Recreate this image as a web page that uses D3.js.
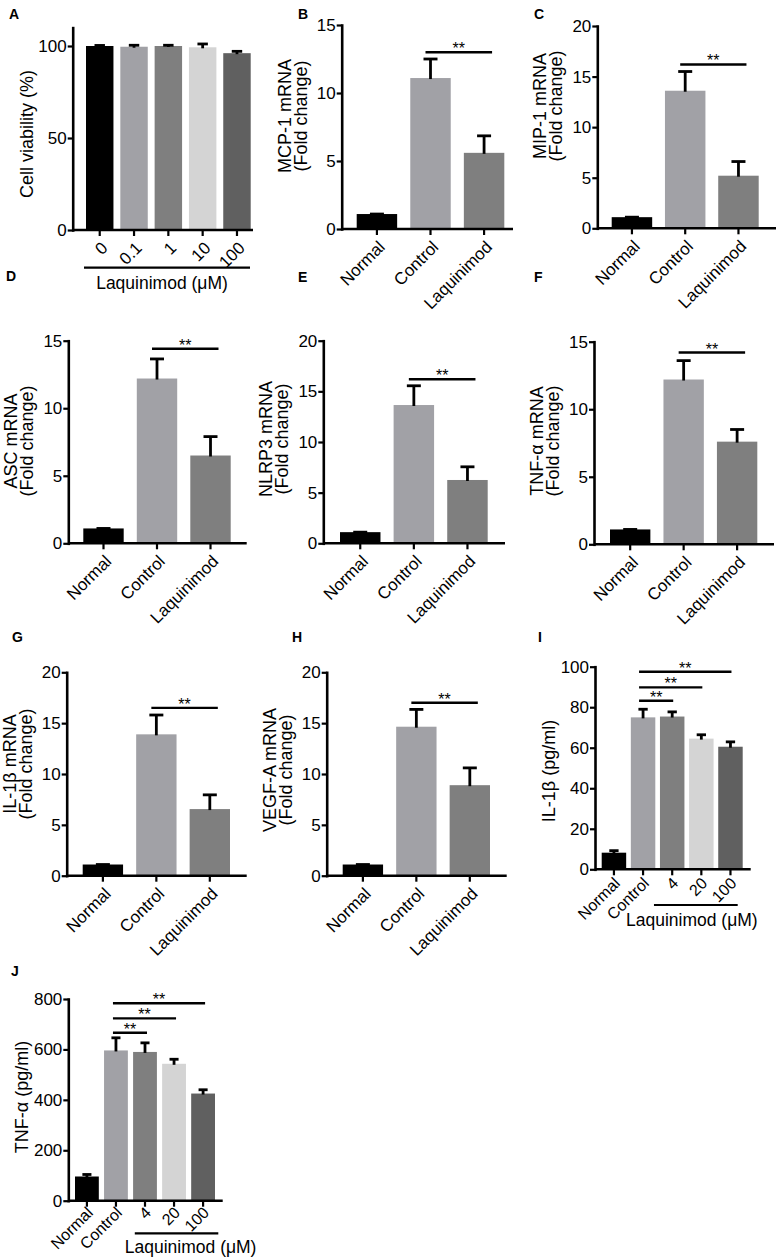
<!DOCTYPE html>
<html>
<head>
<meta charset="utf-8">
<script src="https://cdn.jsdelivr.net/npm/d3@7"></script>
<style>
  body { margin: 0; background: #fff; }
  svg { display: block; font-family: "Liberation Sans", Arial, sans-serif; }
</style>
</head>
<body>
<svg id="fig" width="779" height="1259"></svg>
<script>
// categories
const dosesA = ["0", "0.1", "1", "10", "100"];
const groupsMRNA = ["Normal", "Control", "Laquinimod"];
const groupsELISA = ["Normal", "Control", "4", "20", "100"];

// A: cell viability (%)
const viabilityMean = [100, 99.6, 100, 99.3, 96.1];
const viabilityErr = [0.3, 0.8, 0.4, 1.8, 1.0];

// B-H: mRNA fold change (Normal, Control, Laquinimod)
const mcp1Mean = [1.1, 11.1, 5.6];
const mcp1Err = [0, 1.4, 1.25];
const mip1Mean = [1.1, 13.6, 5.2];
const mip1Err = [0, 1.9, 1.4];
const ascMean = [1.1, 12.2, 6.5];
const ascErr = [0, 1.45, 1.4];
const nlrp3Mean = [1.1, 13.65, 6.25];
const nlrp3Err = [0, 1.9, 1.3];
const tnfMrnaMean = [1.1, 12.2, 7.6];
const tnfMrnaErr = [0, 1.4, 0.9];
const il1bMrnaMean = [1.1, 13.9, 6.55];
const il1bMrnaErr = [0, 1.9, 1.4];
const vegfMean = [1.1, 14.65, 8.9];
const vegfErr = [0, 1.7, 1.7];

// I, J: protein (pg/ml)
const il1bProtMean = [8.2, 75, 75.4, 64.5, 60.5];
const il1bProtErr = [1.0, 4, 2.3, 1.9, 2.4];
const tnfProtMean = [96, 596, 590, 543, 425];
const tnfProtErr = [8, 50, 36, 18, 15];

// significance brackets (value = height of the line)
const sigMcp1 = [{ from: "Control", to: "Laquinimod", value: 13.0 }];
const sigMip1 = [{ from: "Control", to: "Laquinimod", value: 16.2 }];
const sigAsc = [{ from: "Control", to: "Laquinimod", value: 14.4 }];
const sigNlrp3 = [{ from: "Control", to: "Laquinimod", value: 16.2 }];
const sigTnfMrna = [{ from: "Control", to: "Laquinimod", value: 14.2 }];
const sigIl1bMrna = [{ from: "Control", to: "Laquinimod", value: 16.5 }];
const sigVegf = [{ from: "Control", to: "Laquinimod", value: 17.0 }];
const sigIl1bProt = [
    { from: "Control", to: "100", value: 97.5 },
    { from: "Control", to: "20", value: 89.8 },
    { from: "Control", to: "4", value: 83.2 }
];
const sigTnfProt = [
    { from: "Control", to: "100", value: 783 },
    { from: "Control", to: "20", value: 723 },
    { from: "Control", to: "4", value: 666 }
];

const barColors = ["#000000", "#a1a1a6", "#7f7f7f", "#d4d4d4", "#606060"];

const svg = d3.select("#fig");
const FONT = "Liberation Sans, Arial, sans-serif";

// layout of each panel (pixel frames)
const panels = [
    { letter: "A", lx: 9, ly: 19, cats: dosesA, mean: viabilityMean, err: viabilityErr,
      max: 110, ticks: [0, 50, 100], ax: 72.7, y0: 230, yTop: 27.6, xEnd: 253,
      band: [86, 250.7], pad: 0.2, title: ["Cell viability (%)"], titleY: 134, sig: [],
      under: { from: "0", to: "100", dx0: -2, dx1: -0.7, dy: 37.6, text: "Laquinimod (μM)", tx: 162, ty: 59, anchor: "middle" } },
    { letter: "B", lx: 298, ly: 19, cats: groupsMRNA, mean: mcp1Mean, err: mcp1Err,
      max: 15, ticks: [0, 5, 10, 15], ax: 341.7, y0: 229, yTop: 25, xEnd: 513,
      band: [356.7, 504.3], pad: 0.245, title: ["MCP-1 mRNA", "(Fold change)"], titleY: 116, sig: sigMcp1 },
    { letter: "C", lx: 534, ly: 19, cats: groupsMRNA, mean: mip1Mean, err: mip1Err,
      max: 20, ticks: [0, 5, 10, 15, 20], ax: 597.3, y0: 228.3, yTop: 26, xEnd: 776,
      band: [611.7, 758.7], pad: 0.24, title: ["MIP-1 mRNA", "(Fold change)"], titleY: 106, sig: sigMip1 },
    { letter: "D", lx: 6, ly: 281, cats: groupsMRNA, mean: ascMean, err: ascErr,
      max: 15, ticks: [0, 5, 10, 15], ax: 68.3, y0: 543.3, yTop: 340.7, xEnd: 246.7,
      band: [83.3, 230.7], pad: 0.245, title: ["ASC mRNA", "(Fold change)"], titleY: 441, sig: sigAsc },
    { letter: "E", lx: 298, ly: 282, cats: groupsMRNA, mean: nlrp3Mean, err: nlrp3Err,
      max: 20, ticks: [0, 5, 10, 15, 20], ax: 323.3, y0: 543.3, yTop: 340.7, xEnd: 505,
      band: [340, 487.7], pad: 0.245, title: ["NLRP3 mRNA", "(Fold change)"], titleY: 439, sig: sigNlrp3 },
    { letter: "F", lx: 534, ly: 282, cats: groupsMRNA, mean: tnfMrnaMean, err: tnfMrnaErr,
      max: 15, ticks: [0, 5, 10, 15], ax: 594, y0: 544.3, yTop: 341.7, xEnd: 774,
      band: [610, 757.3], pad: 0.245, title: ["TNF-α mRNA", "(Fold change)"], titleY: 441, sig: sigTnfMrna },
    { letter: "G", lx: 12, ly: 642, cats: groupsMRNA, mean: il1bMrnaMean, err: il1bMrnaErr,
      max: 20, ticks: [0, 5, 10, 15, 20], ax: 66.7, y0: 875.7, yTop: 672.3, xEnd: 246.7,
      band: [82.7, 230], pad: 0.245, title: ["IL-1β mRNA", "(Fold change)"], titleY: 764, sig: sigIl1bMrna },
    { letter: "H", lx: 292, ly: 642, cats: groupsMRNA, mean: vegfMean, err: vegfErr,
      max: 20, ticks: [0, 5, 10, 15, 20], ax: 326.7, y0: 875.7, yTop: 672.3, xEnd: 506.7,
      band: [342.7, 490], pad: 0.245, title: ["VEGF-A mRNA", "(Fold change)"], titleY: 770, sig: sigVegf },
    { letter: "I", lx: 538, ly: 642, cats: groupsELISA, mean: il1bProtMean, err: il1bProtErr,
      max: 100, ticks: [0, 20, 40, 60, 80, 100], ax: 595, y0: 869.3, yTop: 666.7, xEnd: 750.7,
      band: [601.7, 742.7], pad: 0.16, title: ["IL-1β (pg/ml)"], titleY: 771, sig: sigIl1bProt,
      sigPad: [-4, 1], labelFont: 16, labelAt: [7, 15],
      under: { from: "4", to: "100", dx0: -6, dx1: -5, dy: 35.7, text: "Laquinimod (μM)", tx: -28, ty: 57, anchor: "start" } },
    { letter: "J", lx: 11, ly: 976, cats: groupsELISA, mean: tnfProtMean, err: tnfProtErr,
      max: 800, ticks: [0, 200, 400, 600, 800], ax: 68.3, y0: 1200.7, yTop: 999, xEnd: 222.7,
      band: [75, 215], pad: 0.18, title: ["TNF-α (pg/ml)"], titleY: 1097, sig: sigTnfProt,
      sigPad: [-3, 2], labelFont: 16, labelAt: [7, 13],
      under: { from: "4", to: "100", dx0: 1.7, dx1: 3.3, dy: 32.6, text: "Laquinimod (μM)", tx: -10, ty: 52.5, anchor: "start" } }
];

function drawPanel(p) {
    const g = svg.append("g");
    const y = d3.scaleLinear().domain([0, p.max]).range([p.y0, p.yTop]);
    const x = d3.scaleBand().domain(p.cats).range(p.band).paddingInner(p.pad).paddingOuter(0);
    const bw = x.bandwidth();

    // bars
    g.selectAll("rect.bar")
        .data(p.cats)
        .join("rect")
        .attr("class", "bar")
        .attr("x", d => x(d))
        .attr("y", (d, i) => y(p.mean[i]))
        .attr("width", bw)
        .attr("height", (d, i) => p.y0 - y(p.mean[i]))
        .attr("fill", (d, i) => barColors[i]);

    // error bars (upper only)
    const capW = Math.min(bw * 0.38, 14);
    const eb = g.selectAll("g.err")
        .data(p.cats)
        .join("g")
        .attr("class", "err")
        .attr("stroke", "#000")
        .attr("stroke-width", 2.8);
    eb.append("line")
        .attr("x1", d => x(d) + bw / 2)
        .attr("x2", d => x(d) + bw / 2)
        .attr("y1", (d, i) => y(p.mean[i]) + 1)
        .attr("y2", (d, i) => y(p.mean[i] + p.err[i]));
    eb.append("line")
        .attr("x1", d => x(d) + bw / 2 - capW / 2)
        .attr("x2", d => x(d) + bw / 2 + capW / 2)
        .attr("y1", (d, i) => y(p.mean[i] + p.err[i]))
        .attr("y2", (d, i) => y(p.mean[i] + p.err[i]));

    // y axis
    const yAxis = d3.axisLeft(y).tickValues(p.ticks).tickSize(5).tickSizeOuter(0).tickPadding(1);
    const ya = g.append("g").attr("transform", `translate(${p.ax},0)`).call(yAxis);
    ya.select(".domain").attr("stroke-width", 2.6).attr("stroke-linecap", "square");
    ya.selectAll(".tick line").attr("stroke-width", 2.2);
    ya.selectAll(".tick text").attr("font-size", 17).attr("fill", "#000").attr("font-family", FONT);

    // x axis
    g.append("line")
        .attr("x1", p.ax).attr("x2", p.xEnd)
        .attr("y1", p.y0).attr("y2", p.y0)
        .attr("stroke", "#000").attr("stroke-width", 2.6);
    const xAxis = d3.axisBottom(x).tickSize(6).tickSizeOuter(0);
    const xa = g.append("g").attr("transform", `translate(0,${p.y0})`).call(xAxis);
    xa.select(".domain").remove();
    xa.selectAll(".tick line").attr("stroke-width", 2.2);
    const [lx, ly] = p.labelAt || [9, 19];
    xa.selectAll(".tick text")
        .attr("font-size", p.labelFont || 17).attr("fill", "#000").attr("font-family", FONT)
        .attr("text-anchor", "end")
        .attr("x", lx).attr("y", ly).attr("dy", 0)
        .attr("transform", `rotate(-45,${lx},${ly})`);

    // y title
    const t = g.append("text")
        .attr("text-anchor", "middle")
        .attr("font-size", 18)
        .attr("fill", "#000");
    if (p.title.length === 2) {
        t.attr("transform", `translate(${p.ax - 51},${p.titleY}) rotate(-90)`);
        t.append("tspan").attr("x", 0).attr("y", 0).text(p.title[0]);
        t.append("tspan").attr("x", 0).attr("y", 16).text(p.title[1]);
    } else {
        t.attr("transform", `translate(${p.ax - 40},${p.titleY}) rotate(-90)`).text(p.title[0]);
    }

    // significance lines
    const pad = p.sigPad || [-5, 8];
    p.sig.forEach(s => {
        const x1 = x(s.from) + bw / 2 + pad[0];
        const x2 = x(s.to) + bw / 2 + pad[1];
        const sy = y(s.value);
        g.append("line")
            .attr("x1", x1).attr("x2", x2)
            .attr("y1", sy).attr("y2", sy)
            .attr("stroke", "#000").attr("stroke-width", 2.4);
        g.append("text")
            .attr("x", (x1 + x2) / 2).attr("y", sy + 2)
            .attr("text-anchor", "middle")
            .attr("font-size", 16)
            .text("**");
    });

    // group underline (Laquinimod doses)
    if (p.under) {
        const u = p.under;
        const ux1 = x(u.from) + u.dx0;
        const ux2 = x(u.to) + bw + u.dx1;
        g.append("line")
            .attr("x1", ux1).attr("x2", ux2)
            .attr("y1", p.y0 + u.dy).attr("y2", p.y0 + u.dy)
            .attr("stroke", "#000").attr("stroke-width", 2.2);
        g.append("text")
            .attr("x", u.anchor === "middle" ? u.tx : ux1 + u.tx)
            .attr("y", p.y0 + u.ty)
            .attr("text-anchor", u.anchor)
            .attr("font-size", 17.5)
            .text(u.text);
    }

    // panel letter
    svg.append("text")
        .attr("x", p.lx).attr("y", p.ly)
        .attr("font-size", 14)
        .attr("font-weight", "bold")
        .text(p.letter);
}

panels.forEach(drawPanel);
</script>
</body>
</html>
